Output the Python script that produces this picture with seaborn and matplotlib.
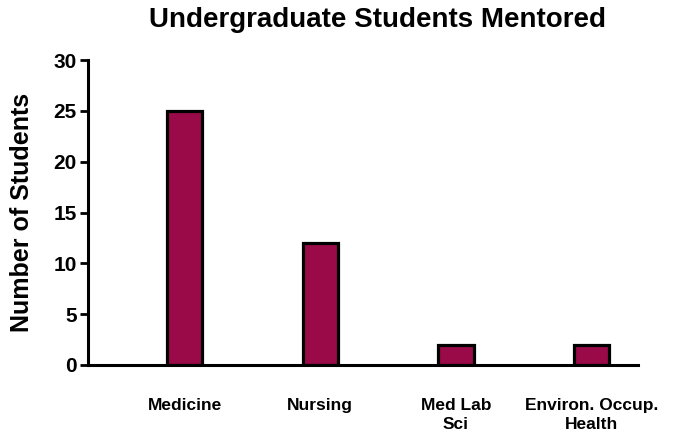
import seaborn as sns
import matplotlib.pyplot as plt
import pandas as pd

categories = ["Medicine", "Nursing", "Med Lab\nSci", "Environ. Occup.\nHealth"]
students = [25, 12, 2, 2]

df = pd.DataFrame({"program": categories, "count": students})

sns.set_style("ticks")
plt.rcParams['font.family'] = ['Liberation Sans', 'DejaVu Sans']
plt.rcParams['text.color'] = 'black'
plt.rcParams['axes.labelcolor'] = 'black'
plt.rcParams['xtick.color'] = 'black'
plt.rcParams['ytick.color'] = 'black'
plt.rcParams['axes.edgecolor'] = 'black'

fig = plt.figure(figsize=(6.85, 4.36), dpi=100)
ax = fig.add_axes([0.128, 0.163, 0.803, 0.699])

sns.barplot(data=df, x="program", y="count", ax=ax, color="#9A0A48",
            width=0.26, edgecolor="black", linewidth=2.3, saturation=1)

ax.set_xlim(-0.715, 3.34)
ax.set_ylim(0, 30)
ax.set_yticks([0, 5, 10, 15, 20, 25, 30])
ax.tick_params(axis="y", labelsize=15, width=2, length=6, direction="out", pad=2)
ax.tick_params(axis="x", length=0, labelsize=12.5, pad=24)
for lbl in ax.get_xticklabels():
    lbl.set_fontweight("bold")
    lbl.set_linespacing(1.3)
for lbl in ax.get_yticklabels():
    lbl.set_fontweight("bold")

ax.set_xlabel("")
ax.set_ylabel("Number of Students", fontsize=18, fontweight="bold", labelpad=14)
ax.set_title("Undergraduate Students Mentored", fontsize=20, fontweight="bold",
             pad=24, x=0.527)

sns.despine(ax=ax)
ax.spines["left"].set_linewidth(2.2)
ax.spines["bottom"].set_linewidth(2.2)

plt.savefig("out.png", dpi=100)
